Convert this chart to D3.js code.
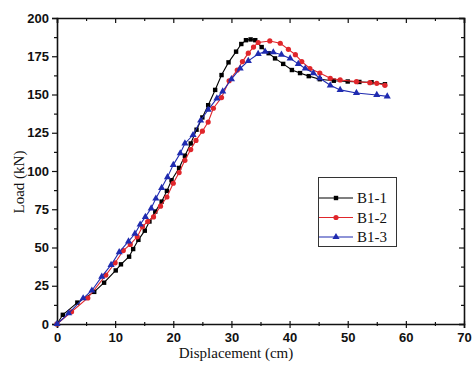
<!DOCTYPE html>
<html>
<head>
<meta charset="utf-8">
<script src="https://cdn.jsdelivr.net/npm/d3@7"></script>
<style>
  body { margin: 0; background: #fff; }
  svg { display: block; }
</style>
</head>
<body>
<script>
const seriesNames = ["B1-1", "B1-2", "B1-3"];
const seriesColors = ["#000000", "#e0262b", "#1f2bb0"];

// displacement (cm), load (kN)
const b11 = [[0,0],[1,6],[3.5,14],[6.4,21],[8.1,27],[10.1,35],[11,39],[12.4,44],[13.1,49],[14,55],[15.1,61],[15.9,67],[16.9,73.5],[18,80],[18.9,87],[19.7,94],[21,102],[22,110],[23,118],[24,127],[25,135],[26,143],[27.2,153],[28.3,162.7],[29.5,171],[30.8,178],[31.7,183],[32.5,185.5],[33.3,186],[34.1,185.5],[35.2,181],[36.4,177],[37.5,173.6],[38.9,170],[40.4,166],[41.8,164],[43.3,162],[45.2,160],[47.6,159],[50,158.5],[52,158.2],[54.1,158],[56.4,156.7]];
const b12 = [[0,0],[2.5,8],[5.3,17],[8.4,32],[10,40],[11.4,48],[12.6,52],[13.8,57],[14.7,63.6],[15.6,67],[16.6,70],[17.8,77],[18.9,83],[20,92],[21,99],[22,107],[23,114],[23.9,120],[25,126],[26,132],[26.9,141],[28.3,148],[29.6,159],[31,166],[31.9,171.5],[32.9,177],[33.8,181],[34.6,184],[36.6,185],[38.4,183.5],[39.8,179.5],[41,176],[42.1,171.5],[43.5,167],[45.2,164],[47,160.6],[48.7,159.5],[51.5,158.4],[53.8,157.7],[55,157.3],[56.4,156]];
const b13 = [[0,0],[2,7],[4.5,16.8],[6,21.9],[7.7,31],[9.3,38.6],[10.7,47],[12.3,54],[13.4,59],[14.3,65],[15.2,70],[16.2,75.6],[17,82],[18,89],[19,96],[20,104],[21.2,111.6],[22,118],[23.4,123.5],[24.7,133],[26,140],[27.5,147.5],[28.5,152],[30,160],[31.5,167],[32.9,172],[34.6,176.5],[35.8,178],[37.2,177.6],[38.6,176],[40.1,173.6],[41.5,170],[42.7,167],[44.1,164],[45.2,160.6],[47,156],[48.7,153],[51.5,151],[55,149.7],[56.8,148.8]];
const allSeries = [b11, b12, b13];

const xTicks = [0, 10, 20, 30, 40, 50, 60, 70];
const yTicks = [0, 25, 50, 75, 100, 125, 150, 175, 200];

const W = 473, H = 369;
const plotLeft = 57, plotRight = 464, plotTop = 18, plotBottom = 324;

const x = d3.scaleLinear().domain([0, 70]).range([plotLeft, plotRight]);
const y = d3.scaleLinear().domain([0, 200]).range([plotBottom, plotTop]);

const svg = d3.select("body").append("svg")
    .attr("width", W).attr("height", H)
    .attr("font-family", "'Liberation Serif', 'Times New Roman', serif");

// minor tick values
const xMinor = d3.range(5, 70, 10);
const yMinor = d3.range(12.5, 200, 25);

// bottom axis, ticks cross the line
const gx = svg.append("g")
    .attr("transform", `translate(0,${plotBottom})`)
    .call(d3.axisBottom(x).tickValues(xTicks).tickFormat(d3.format("d")).tickSize(4).tickPadding(5));
gx.selectAll(".tick line").attr("y1", -3);
gx.selectAll("text").attr("font-size", 13).attr("font-weight", "bold").attr("fill", "#111");
svg.append("g")
    .attr("transform", `translate(0,${plotBottom})`)
    .call(d3.axisBottom(x).tickValues(xMinor).tickFormat("").tickSize(2))
    .call(g => g.selectAll(".tick line").attr("y1", -2))
    .select(".domain").remove();

// left axis
const gy = svg.append("g")
    .attr("transform", `translate(${plotLeft},0)`)
    .call(d3.axisLeft(y).tickValues(yTicks).tickFormat(d3.format("d")).tickSize(5).tickPadding(3));
gy.selectAll("text").attr("font-size", 13).attr("font-weight", "bold").attr("fill", "#111");
svg.append("g")
    .attr("transform", `translate(${plotLeft},0)`)
    .call(d3.axisLeft(y).tickValues(yMinor).tickFormat("").tickSize(3))
    .select(".domain").remove();

// top axis (ticks inward)
svg.append("g")
    .attr("transform", `translate(0,${plotTop})`)
    .call(d3.axisTop(x).tickValues(xTicks).tickFormat("").tickSize(-5));
svg.append("g")
    .attr("transform", `translate(0,${plotTop})`)
    .call(d3.axisTop(x).tickValues(xMinor).tickFormat("").tickSize(-3))
    .select(".domain").remove();

// right axis (ticks inward)
svg.append("g")
    .attr("transform", `translate(${plotRight},0)`)
    .call(d3.axisRight(y).tickValues(yTicks).tickFormat("").tickSize(-5));
svg.append("g")
    .attr("transform", `translate(${plotRight},0)`)
    .call(d3.axisRight(y).tickValues(yMinor).tickFormat("").tickSize(-3))
    .select(".domain").remove();

svg.selectAll(".domain").attr("stroke", "#111").attr("stroke-width", 1.6);
svg.selectAll(".tick line").attr("stroke", "#111").attr("stroke-width", 1.2);

// titles
svg.append("text")
    .attr("x", 236).attr("y", 358)
    .attr("text-anchor", "middle").attr("font-size", 15).attr("fill", "#111")
    .text("Displacement (cm)");
svg.append("text")
    .attr("transform", "translate(24,182) rotate(-90)")
    .attr("text-anchor", "middle").attr("font-size", 15).attr("fill", "#111")
    .text("Load (kN)");

// lines and markers
const line = d3.line().x(d => x(d[0])).y(d => y(d[1]));
const tri = d3.symbol().type(d3.symbolTriangle).size(22);

function drawMarker(g, i, px, py) {
    if (i === 0) {
        g.append("rect").attr("x", px - 2.2).attr("y", py - 2.2).attr("width", 4.4).attr("height", 4.4)
            .attr("fill", seriesColors[i]);
    } else if (i === 1) {
        g.append("circle").attr("cx", px).attr("cy", py).attr("r", 2.6).attr("fill", seriesColors[i]);
    } else {
        g.append("path").attr("d", tri()).attr("transform", `translate(${px},${py})`)
            .attr("fill", seriesColors[i]);
    }
}

allSeries.forEach((data, i) => {
    svg.append("path")
        .datum(data)
        .attr("fill", "none")
        .attr("stroke", seriesColors[i])
        .attr("stroke-width", 1.1)
        .attr("d", line);
    const g = svg.append("g");
    data.forEach(d => drawMarker(g, i, x(d[0]), y(d[1])));
});

// legend
const lg = svg.append("g");
lg.append("rect")
    .attr("x", 318.5).attr("y", 177.5).attr("width", 78).attr("height", 69)
    .attr("fill", "#fff").attr("stroke", "#333").attr("stroke-width", 1);
seriesNames.forEach((name, i) => {
    const ly = 198 + i * 19.5;
    lg.append("line").attr("x1", 319).attr("x2", 353).attr("y1", ly).attr("y2", ly)
        .attr("stroke", seriesColors[i]).attr("stroke-width", 1.1);
    drawMarker(lg, i, 336, ly);
    lg.append("text").attr("x", 357).attr("y", ly + 5)
        .attr("font-size", 15).attr("fill", "#111").text(name);
});
</script>
</body>
</html>
